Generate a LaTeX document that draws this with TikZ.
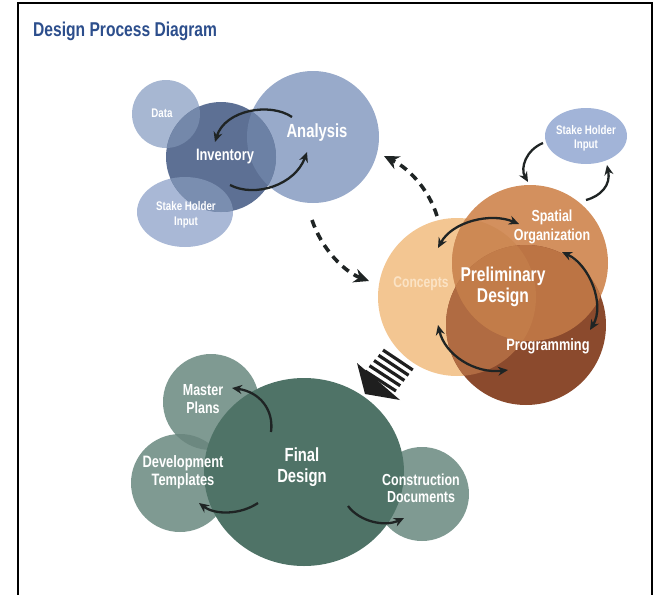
\documentclass[tikz,border=0pt]{standalone}
\usepackage{fontspec}
\newfontfamily\cond{Liberation Sans}[FakeStretch=0.78]
\usetikzlibrary{arrows.meta}
\definecolor{titleblue}{HTML}{2C4E8C}
\definecolor{arrowc}{HTML}{1F2424}
\definecolor{cData}{HTML}{A7B7D2}
\definecolor{cAna}{HTML}{98AACA}
\definecolor{cStakeL}{HTML}{A9B8D6}
\definecolor{cInv}{HTML}{5D7094}
\definecolor{cInvData}{HTML}{7488AA}
\definecolor{cInvAna}{HTML}{6C81A5}
\definecolor{cInvStake}{HTML}{7A8EB0}
\definecolor{cStakeR}{HTML}{A2B4D8}
\definecolor{cC}{HTML}{F3C692}
\definecolor{cS}{HTML}{D3905E}
\definecolor{cP}{HTML}{8B4A2D}
\definecolor{cCS}{HTML}{CD8954}
\definecolor{cCP}{HTML}{B06B42}
\definecolor{cSP}{HTML}{BC7444}
\definecolor{cCSP}{HTML}{C27C49}
\definecolor{cConText}{HTML}{FBE3C5}
\definecolor{cSmall}{HTML}{7F9A92}
\definecolor{cSmallOv}{HTML}{6C8880}
\definecolor{cFinal}{HTML}{4F7367}
\newcommand\fsz[2]{\fontsize{#1}{#2}\selectfont}
\begin{document}
\begin{tikzpicture}[x=1pt,y=-1pt,
  lbl/.style={text=white, align=center, inner sep=0pt},
  conn/.style={draw=arrowc, line width=2.3pt, -{Stealth[length=10pt,width=9pt]}},
  dbl/.style={draw=arrowc, line width=2.3pt, {Stealth[length=10pt,width=9pt]}-{Stealth[length=10pt,width=9pt]}},
  dconn/.style={draw=arrowc, line width=3.6pt, dash pattern=on 8pt off 6pt, -{Stealth[length=15pt,width=14pt]}},
]
\useasboundingbox (0,0) rectangle (654,595);
% frame
\draw[line width=1.5pt] (18,596) -- (18,3) -- (652,3) -- (652,596);
\node[anchor=base west, text=titleblue, inner sep=0pt, font=\cond\bfseries\fsz{20}{24}] (title) at (33,36) {Design Process Diagram};

% ---------- blue group ----------
\fill[cData] (166,114) circle[radius=34pt];
\fill[cStakeL] (185,212) ellipse[x radius=48pt, y radius=35pt];
\fill[cAna] (313,137) circle[radius=66pt];
\fill[cInv] (221,157) circle[radius=55pt];
\begin{scope}
  \clip (221,157) circle[radius=55pt];
  \fill[cInvData] (166,114) circle[radius=34pt];
  \fill[cInvStake] (185,212) ellipse[x radius=48pt, y radius=35pt];
  \fill[cInvAna] (313,137) circle[radius=66pt];
\end{scope}
\node[lbl, font=\cond\bfseries\fsz{12.5}{14}] (data) at (162,113) {Data};
\node[lbl, font=\cond\bfseries\fsz{16.5}{19}] (inv) at (225,157) {Inventory};
\node[lbl, font=\cond\bfseries\fsz{19}{22}] (ana) at (317,133) {Analysis};
\node[lbl, font=\cond\bfseries\fsz{12.5}{15}] (stakeL) at (186,215) {Stake Holder\\Input};

% ---------- orange group ----------
\fill[cStakeR] (586,136) ellipse[x radius=41pt, y radius=28pt];
\fill[cC] (457,297) circle[radius=79pt];
\fill[cS] (530,263) circle[radius=78pt];
\fill[cP] (526,325) circle[radius=80pt];
\begin{scope}
  \clip (457,297) circle[radius=79pt];
  \fill[cCS] (530,263) circle[radius=78pt];
  \fill[cCP] (526,325) circle[radius=80pt];
\end{scope}
\begin{scope}
  \clip (530,263) circle[radius=78pt];
  \fill[cSP] (526,325) circle[radius=80pt];
  \clip (457,297) circle[radius=79pt];
  \fill[cCSP] (526,325) circle[radius=80pt];
\end{scope}
\node[lbl, font=\cond\bfseries\fsz{12.5}{14}] (stakeR) at (586,138) {Stake Holder\\Input};
\node[lbl, font=\cond\bfseries\fsz{16}{19}] (spatial) at (552,227) {Spatial\\Organization};
\node[lbl, font=\cond\bfseries\fsz{20}{21}] (prelim) at (503,287) {Preliminary\\Design};
\node[lbl, text=cConText, font=\cond\bfseries\fsz{15.5}{18}] (concepts) at (421,284) {Concepts};
\node[lbl, font=\cond\bfseries\fsz{16.4}{19}] (prog) at (548,346) {Programming};

% ---------- green group ----------
\fill[cSmall] (211,402) circle[radius=48pt];
\fill[cSmall] (180,483) circle[radius=49pt];
\begin{scope}
  \clip (211,402) circle[radius=48pt];
  \fill[cSmallOv] (180,483) circle[radius=49pt];
\end{scope}
\fill[cSmall] (422,494) circle[radius=47pt];
\fill[cFinal] (304,472) ellipse[x radius=100pt, y radius=94pt];
\node[lbl, font=\cond\bfseries\fsz{16}{18}] (master) at (203,399) {Master\\Plans};
\node[lbl, font=\cond\bfseries\fsz{16.5}{18}] (dev) at (183,472) {Development\\Templates};
\node[lbl, font=\cond\bfseries\fsz{19}{21}] (final) at (302,467) {Final\\Design};
\node[lbl, font=\cond\bfseries\fsz{16}{17}] (constr) at (421,488) {Construction\\Documents};

% ---------- striped arrow ----------
\coordinate (sa1) at (357,363);
\coordinate (sa2) at (365,394);
\coordinate (sa3) at (400,400);
\fill[black!88] (sa1) -- (sa2) -- (sa3) -- cycle;
\foreach \k in {0,...,4}{
  \draw[black!88, line width=3.2pt] ({365+4.5*\k},{371-5.25*\k}) -- ({396+4.2*\k},{391-5.25*\k});
}

% ---------- connectors ----------
\coordinate (a1s) at (292,117); \coordinate (a1e) at (215,142);
\draw[conn] (a1s) .. controls (270,102) and (225,110) .. (a1e);
\coordinate (a2s) at (230,185); \coordinate (a2e) at (307,152);
\draw[conn] (a2s) .. controls (255,198) and (295,185) .. (a2e);

\coordinate (d1s) at (437,216); \coordinate (d1e) at (384,156);
\draw[dconn] (d1s) .. controls (430,193) and (412,170) .. (d1e);
\coordinate (d2s) at (312,220); \coordinate (d2e) at (369,281);
\draw[dconn] (d2s) .. controls (322,250) and (345,272) .. (d2e);

\coordinate (o1s) at (438,248); \coordinate (o1e) at (519,224);
\draw[dbl] (o1s) .. controls (452,222) and (490,212) .. (o1e);
\coordinate (o2s) at (562,252); \coordinate (o2e) at (590,330);
\draw[dbl] (o2s) .. controls (590,265) and (605,305) .. (o2e);
\coordinate (o3s) at (438,325); \coordinate (o3e) at (508,370);
\draw[dbl] (o3s) .. controls (445,355) and (475,374) .. (o3e);

\coordinate (s1s) at (543,143); \coordinate (s1e) at (528,182);
\draw[conn] (s1s) .. controls (526,150) and (520,168) .. (s1e);
\coordinate (s2s) at (586,200); \coordinate (s2e) at (607,165);
\draw[conn] (s2s) .. controls (601,196) and (611,185) .. (s2e);

\coordinate (g1s) at (271,432); \coordinate (g1e) at (232,388);
\draw[conn] (g1s) .. controls (274,410) and (260,392) .. (g1e);
\coordinate (g2s) at (258,503); \coordinate (g2e) at (199,503);
\draw[conn] (g2s) .. controls (240,515) and (215,515) .. (g2e);
\coordinate (g3s) at (348,506); \coordinate (g3e) at (404,518);
\draw[conn] (g3s) .. controls (360,522) and (385,527) .. (g3e);
\end{tikzpicture}
\end{document}
